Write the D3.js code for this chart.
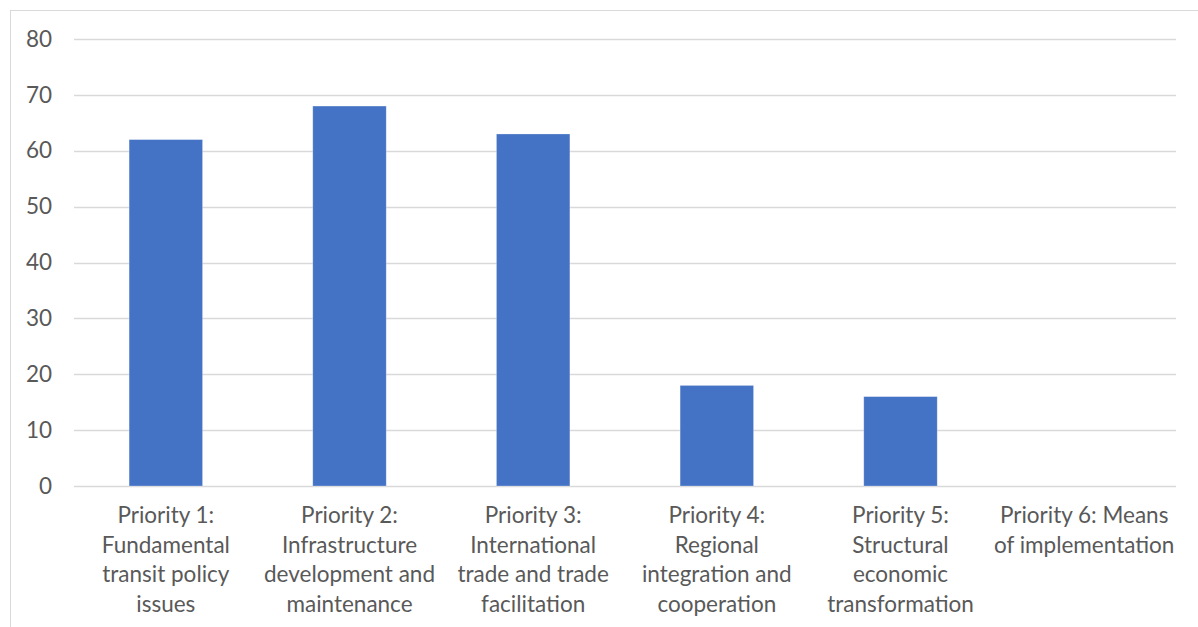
<!DOCTYPE html>
<html>
<head>
<meta charset="utf-8">
<script src="https://cdn.jsdelivr.net/npm/d3@7"></script>
<style>
  html, body { margin: 0; padding: 0; background: #fff; }
  svg { display: block; }
  text { font-family: Lato, "Open Sans", sans-serif; fill: #595959; }
</style>
</head>
<body>
<svg id="chart" width="1198" height="627"></svg>
<script>
// Category labels (line breaks as wrapped on the axis)
const categories = [
  "Priority 1:\nFundamental\ntransit policy\nissues",
  "Priority 2:\nInfrastructure\ndevelopment and\nmaintenance",
  "Priority 3:\nInternational\ntrade and trade\nfacilitation",
  "Priority 4:\nRegional\nintegration and\ncooperation",
  "Priority 5:\nStructural\neconomic\ntransformation",
  "Priority 6: Means\nof implementation"
];
const values = [62, 68, 63, 18, 16, 0];
const yTicks = [0, 10, 20, 30, 40, 50, 60, 70, 80];

const W = 1198, H = 627;
const plot = { left: 74, right: 1176, top: 39, bottom: 486 };
const fontSize = 22.5;

const svg = d3.select("#chart");

// Chart area frame (extends past the visible region at right and bottom)
svg.append("rect")
  .attr("x", 10.5).attr("y", 10.5)
  .attr("width", W + 20).attr("height", H + 20)
  .attr("fill", "#fff")
  .attr("stroke", "#d9d9d9").attr("stroke-width", 1);

const x = d3.scaleBand()
  .domain(categories)
  .range([plot.left, plot.right])
  .paddingInner(0.6)
  .paddingOuter(0.3);

const y = d3.scaleLinear()
  .domain([0, 80])
  .range([plot.bottom, plot.top]);

// Horizontal gridlines
svg.append("g")
  .selectAll("line")
  .data(yTicks)
  .join("line")
  .attr("x1", plot.left).attr("x2", plot.right)
  .attr("y1", d => Math.round(y(d)) + 0.5)
  .attr("y2", d => Math.round(y(d)) + 0.5)
  .attr("stroke", "#d9d9d9").attr("stroke-width", 1.5);

// Y-axis labels
const yAxis = d3.axisLeft(y).tickValues(yTicks).tickSize(0).tickPadding(0);
const gy = svg.append("g")
  .attr("transform", `translate(${plot.left - 22},0)`)
  .call(yAxis);
gy.select(".domain").remove();
gy.selectAll("text")
  .attr("font-size", fontSize)
  .attr("font-family", "Lato, 'Open Sans', sans-serif")
  .attr("fill", "#595959");

// Bars
svg.append("g")
  .selectAll("rect")
  .data(values)
  .join("rect")
  .attr("x", (d, i) => x(categories[i]))
  .attr("width", x.bandwidth())
  .attr("y", d => y(d))
  .attr("height", d => y(0) - y(d))
  .attr("fill", "#4472c4")
  .attr("stroke", d => d > 0 ? "#ffffff" : "none")
  .attr("stroke-opacity", 0.35)
  .attr("stroke-width", 0.8);

// Category labels
const xAxis = d3.axisBottom(x).tickSize(0).tickFormat("");
const gx = svg.append("g")
  .attr("transform", `translate(0,${plot.bottom})`)
  .call(xAxis);
gx.select(".domain").remove();

const lineH = 29.5;
gx.selectAll(".tick").each(function(d) {
  const lines = d.split("\n");
  const t = d3.select(this).append("text")
    .attr("text-anchor", "middle")
    .attr("font-size", fontSize)
    .attr("fill", "#595959");
  lines.forEach((ln, k) => {
    t.append("tspan")
      .attr("x", 0)
      .attr("y", 37 + k * lineH)
      .text(ln);
  });
});
</script>
</body>
</html>
